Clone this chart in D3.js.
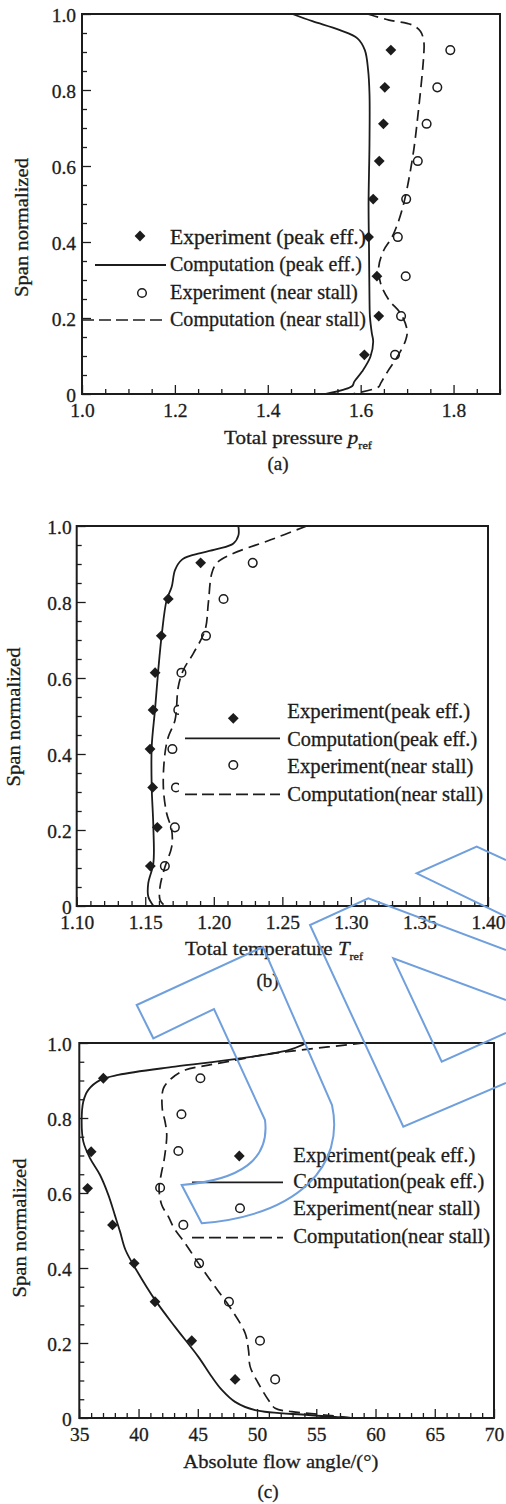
<!DOCTYPE html>
<html>
<head>
<meta charset="utf-8">
<script src="https://cdn.jsdelivr.net/npm/d3@7"></script>
<style>
  html, body { margin: 0; padding: 0; background: #fff; }
  svg { display: block; }
  text { font-family: "Liberation Serif", "Times New Roman", serif; fill: #1c1c1c; stroke: #1c1c1c; stroke-width: 0.3px; }
</style>
</head>
<body>
<svg id="chart" width="506" height="1504"></svg>
<script>
// ---------- shared ----------
const spanTicks = [0, 0.2, 0.4, 0.6, 0.8, 1.0];
const legendLabelsA = ["Experiment (peak eff.)", "Computation (peak eff.)", "Experiment (near stall)", "Computation (near stall)"];
const legendLabelsBC = ["Experiment(peak eff.)", "Computation(peak eff.)", "Experiment(near stall)", "Computation(near stall)"];

// ---------- (a) total pressure ----------
const pressureTicks = [1.0, 1.2, 1.4, 1.6, 1.8];
const pressureSpanExp = [0.103, 0.205, 0.31, 0.413, 0.513, 0.613, 0.711, 0.807, 0.905];
const pressureExpPeak = [1.608, 1.639, 1.635, 1.617, 1.627, 1.640, 1.649, 1.652, 1.665];
const pressureExpStall = [1.674, 1.687, 1.697, 1.680, 1.698, 1.723, 1.742, 1.765, 1.793];
const pressureSpanCompPeak = [1.0, 0.981, 0.958, 0.936, 0.905, 0.853, 0.79, 0.66, 0.5, 0.38, 0.25, 0.203, 0.16, 0.138, 0.098, 0.059, 0.032, 0.021, 0.0];
const pressureCompPeak = [1.453, 1.496, 1.554, 1.593, 1.609, 1.616, 1.619, 1.619, 1.617, 1.618, 1.619, 1.620, 1.624, 1.627, 1.621, 1.603, 1.586, 1.582, 1.525];
const pressureSpanCompStall = [1.0, 0.984, 0.971, 0.954, 0.927, 0.896, 0.753, 0.616, 0.484, 0.414, 0.379, 0.335, 0.291, 0.247, 0.212, 0.168, 0.142, 0.098, 0.059, 0.028, 0.019, 0.0];
const pressureCompStall = [1.615, 1.661, 1.711, 1.729, 1.736, 1.736, 1.725, 1.711, 1.689, 1.668, 1.650, 1.639, 1.643, 1.661, 1.686, 1.700, 1.697, 1.679, 1.658, 1.643, 1.639, 1.582];

// ---------- (b) total temperature ----------
const temperatureTicks = [1.10, 1.15, 1.20, 1.25, 1.30, 1.35, 1.40];
const temperatureSpanExp = [0.105, 0.207, 0.312, 0.413, 0.516, 0.614, 0.711, 0.808, 0.903];
const temperatureExpPeak = [1.1537, 1.1588, 1.1554, 1.1535, 1.1557, 1.1572, 1.1617, 1.1668, 1.1904];
const temperatureExpStall = [1.1643, 1.1716, 1.1724, 1.1698, 1.1741, 1.1764, 1.1943, 1.2071, 1.2284];
const temperatureSpanCompPeak = [1.0, 0.976, 0.954, 0.939, 0.924, 0.911, 0.884, 0.84, 0.805, 0.713, 0.621, 0.516, 0.419, 0.314, 0.209, 0.112, 0.06, 0.025, 0.0];
const temperatureCompPeak = [1.2179, 1.218, 1.2143, 1.2021, 1.1851, 1.1766, 1.1717, 1.1693, 1.1656, 1.162, 1.1595, 1.1571, 1.1547, 1.1547, 1.1559, 1.1559, 1.1522, 1.1522, 1.156];
const temperatureSpanCompStall = [1.0, 0.963, 0.924, 0.902, 0.875, 0.797, 0.726, 0.665, 0.621, 0.577, 0.489, 0.446, 0.402, 0.314, 0.244, 0.2, 0.156, 0.103, 0.051, 0.016, 0.0];
const temperatureCompStall = [1.2678, 1.241, 1.2118, 1.2021, 1.1985, 1.196, 1.1936, 1.1851, 1.1778, 1.1741, 1.1717, 1.1669, 1.1644, 1.1632, 1.1656, 1.1693, 1.1693, 1.1644, 1.1608, 1.1608, 1.1644];

// ---------- (c) absolute flow angle ----------
const angleTicks = [35, 40, 45, 50, 55, 60, 65, 70];
const angleSpanExpPeak = [0.103, 0.206, 0.31, 0.4125, 0.515, 0.6125, 0.71, 0.906];
const angleExpPeak = [48.15, 44.49, 41.39, 39.63, 37.8, 35.7, 36.0, 37.03];
const angleSpanExpStall = [0.103, 0.206, 0.31, 0.4125, 0.515, 0.614, 0.712, 0.81, 0.906];
const angleExpStall = [51.53, 50.25, 47.63, 45.11, 43.78, 41.82, 43.36, 43.62, 45.22];
const angleSpanCompPeak = [1.0, 0.981, 0.957, 0.937, 0.915, 0.901, 0.875, 0.844, 0.79, 0.737, 0.693, 0.648, 0.595, 0.541, 0.497, 0.448, 0.386, 0.315, 0.243, 0.163, 0.11, 0.075, 0.043, 0.021, 0.008, 0.0];
const angleCompPeak = [54.2, 52.65, 48.15, 43.08, 38.29, 36.75, 35.76, 35.34, 35.2, 35.34, 35.9, 36.75, 37.45, 38.0, 38.44, 38.9, 39.98, 41.39, 43.08, 45.05, 46.18, 47.03, 48.15, 49.84, 54.34, 57.9];
const angleSpanCompStall = [1.0, 0.981, 0.968, 0.955, 0.941, 0.928, 0.906, 0.879, 0.826, 0.79, 0.755, 0.693, 0.648, 0.613, 0.568, 0.537, 0.506, 0.466, 0.413, 0.35, 0.288, 0.226, 0.181, 0.137, 0.092, 0.048, 0.026, 0.017, 0.008, 0.0];
const angleCompStall = [59.0, 53.64, 50.4, 48.3, 45.9, 43.93, 42.8, 42.1, 42.0, 42.24, 42.38, 42.18, 41.9, 41.73, 41.96, 42.52, 43.0, 43.93, 45.05, 46.46, 47.87, 49.0, 49.28, 49.42, 50.12, 50.96, 51.53, 52.94, 55.75, 58.0];

// ---------- drawing ----------
const INK = "#1c1c1c";
const svg = d3.select("#chart");
const zip = (spans, vals) => spans.map((s, i) => ({ s, v: vals[i] }));
const minorBetween = (lo, hi, step, majors) =>
  d3.range(Math.round((hi - lo) / step) + 1).map(i => lo + i * step)
    .filter(v => !majors.some(m => Math.abs(m - v) < step / 10));

// Text stretched horizontally to a given advance width.
function fitText(parent, o) {
  const g = parent.append("g");
  const t = g.append("text").attr("font-size", o.size).attr("text-anchor", o.anchor || "start");
  o.build(t);
  const w = t.node().getComputedTextLength();
  const s = o.width ? o.width / w : 1;
  g.attr("transform", `translate(${o.x},${o.y}) rotate(${o.rotate || 0}) scale(${s},1)`);
  return g;
}

const diamondPath = h => `M0,${-h}L${h},0L0,${h}L${-h},0Z`;

let clipId = 0;
function drawPanel(cfg) {
  const g = svg.append("g");
  const x = d3.scaleLinear().domain(cfg.xDomain).range(cfg.xRange);
  const y = d3.scaleLinear().domain([0, 1]).range(cfg.yRange);
  const [x0, x1] = cfg.xRange, [yb, yt] = cfg.yRange;

  // axes with inward ticks
  const styleAxis = a => {
    a.select(".domain").remove();
    a.attr("font-size", null).attr("font-family", null);
    a.selectAll("line").attr("stroke", INK).attr("stroke-width", 1.3);
    a.selectAll("text").attr("font-size", 19.5).attr("fill", INK);
  };
  g.append("g").attr("transform", `translate(0,${yb})`)
    .call(d3.axisBottom(x).tickValues(cfg.xMinor).tickSize(-5).tickFormat(""))
    .call(styleAxis);
  g.append("g").attr("transform", `translate(0,${yb})`)
    .call(d3.axisBottom(x).tickValues(cfg.xTicks).tickSize(-9).tickPadding(9).tickFormat(cfg.xFmt))
    .call(styleAxis);
  const spanMinor = minorBetween(0, 1, 0.05, spanTicks);
  g.append("g").attr("transform", `translate(${x0},0)`)
    .call(d3.axisLeft(y).tickValues(spanMinor).tickSize(-5).tickFormat(""))
    .call(styleAxis);
  g.append("g").attr("transform", `translate(${x0},0)`)
    .call(d3.axisLeft(y).tickValues(spanTicks).tickSize(-9).tickPadding(cfg.yPad)
      .tickFormat(d => d === 0 ? "0" : d3.format(".1f")(d)))
    .call(styleAxis)
    .selectAll("text").attr("dy", "0.36em");

  // computed profiles
  const id = "clip" + (clipId++);
  g.append("clipPath").attr("id", id).append("rect")
    .attr("x", x0).attr("y", yt).attr("width", x1 - x0).attr("height", yb - yt);
  const line = d3.line().x(d => x(d.v)).y(d => y(d.s)).curve(d3.curveCatmullRom.alpha(0.5));
  const lines = g.append("g").attr("clip-path", `url(#${id})`).attr("fill", "none").attr("stroke", INK);
  lines.append("path").attr("d", line(cfg.compPeak)).attr("stroke-width", 1.8);
  lines.append("path").attr("d", line(cfg.compStall)).attr("stroke-width", 1.7).attr("stroke-dasharray", "11,6");

  // experimental points
  g.append("g").selectAll("path").data(cfg.expPeak).join("path")
    .attr("transform", d => `translate(${x(d.v)},${y(d.s)})`)
    .attr("d", diamondPath(5.4)).attr("fill", INK);
  g.append("g").selectAll("circle").data(cfg.expStall).join("circle")
    .attr("cx", d => x(d.v)).attr("cy", d => y(d.s)).attr("r", 4.3)
    .attr("fill", "none").attr("stroke", INK).attr("stroke-width", 1.5);

  // legend
  const L = cfg.legend;
  const lg = g.append("g");
  if (L.box) lg.append("rect").attr("x", L.box[0]).attr("y", L.box[1])
    .attr("width", L.box[2]).attr("height", L.box[3]).attr("fill", "#fff");
  lg.append("path").attr("transform", `translate(${L.diamond[0]},${L.diamond[1]})`)
    .attr("d", diamondPath(5.4)).attr("fill", INK);
  lg.append("line").attr("x1", L.solid[0]).attr("x2", L.solid[1]).attr("y1", L.solid[2]).attr("y2", L.solid[2])
    .attr("stroke", INK).attr("stroke-width", 1.8);
  lg.append("circle").attr("cx", L.circle[0]).attr("cy", L.circle[1]).attr("r", 4.3)
    .attr("fill", "none").attr("stroke", INK).attr("stroke-width", 1.5);
  lg.append("line").attr("x1", L.dashed[0]).attr("x2", L.dashed[1]).attr("y1", L.dashed[2]).attr("y2", L.dashed[2])
    .attr("stroke", INK).attr("stroke-width", 1.7).attr("stroke-dasharray", "12,5");
  L.labels.forEach((lab, i) => fitText(lg, {
    x: L.textX, y: L.baselines[i], size: 20, width: L.widths[i], build: t => t.text(lab)
  }));

  // frame
  g.append("rect").attr("x", x0).attr("y", yt).attr("width", x1 - x0).attr("height", yb - yt)
    .attr("fill", "none").attr("stroke", INK).attr("stroke-width", 2);

  // axis titles
  fitText(g, {
    x: cfg.yTitle[0], y: cfg.yTitle[1], rotate: -90, anchor: "middle", size: 19, width: 139,
    build: t => t.text("Span normalized")
  });
  fitText(g, {
    x: cfg.xTitle.x, y: cfg.xTitle.y, size: 19, width: cfg.xTitle.width,
    build: t => {
      t.append("tspan").text(cfg.xTitle.parts[0]);
      if (cfg.xTitle.parts.length > 1) {
        t.append("tspan").attr("font-style", "italic").text(cfg.xTitle.parts[1]);
        t.append("tspan").attr("font-size", 11).attr("dy", 5).text(cfg.xTitle.parts[2]);
      }
    }
  });
  g.append("text").attr("x", cfg.tag[0]).attr("y", cfg.tag[1]).attr("text-anchor", "middle")
    .attr("font-size", 19).text(cfg.tag[2]);
}

drawPanel({
  xDomain: [1.0, 1.9], xRange: [82, 500], yRange: [394, 14],
  xTicks: pressureTicks, xMinor: minorBetween(1.0, 1.9, 0.05, pressureTicks), xFmt: d3.format(".1f"),
  yPad: 6, yTitle: [28, 227.5],
  xTitle: { x: 224, y: 444, width: 148, parts: ["Total pressure ", "p", "ref"] },
  tag: [278, 470, "(a)"],
  expPeak: zip(pressureSpanExp, pressureExpPeak), expStall: zip(pressureSpanExp, pressureExpStall),
  compPeak: zip(pressureSpanCompPeak, pressureCompPeak), compStall: zip(pressureSpanCompStall, pressureCompStall),
  legend: {
    diamond: [140, 236], solid: [95, 166, 265], circle: [142, 293], dashed: [82, 166, 320],
    textX: 170, baselines: [243.5, 271, 299.3, 326], widths: [196, 192, 188, 196], labels: legendLabelsA
  }
});

drawPanel({
  xDomain: [1.10, 1.40], xRange: [76.7, 488], yRange: [906, 526],
  xTicks: temperatureTicks, xMinor: minorBetween(1.10, 1.40, 0.01, temperatureTicks), xFmt: d3.format(".2f"),
  yPad: 5, yTitle: [20, 717],
  xTitle: { x: 185, y: 955, width: 178, parts: ["Total temperature ", "T", "ref"] },
  tag: [267.5, 987, "(b)"],
  expPeak: zip(temperatureSpanExp, temperatureExpPeak), expStall: zip(temperatureSpanExp, temperatureExpStall),
  compPeak: zip(temperatureSpanCompPeak, temperatureCompPeak), compStall: zip(temperatureSpanCompStall, temperatureCompStall),
  legend: {
    box: [179, 698, 308, 110],
    diamond: [233.3, 718.3], solid: [185, 280, 738.3], circle: [233.3, 765], dashed: [185, 280, 794.3],
    textX: 287.3, baselines: [718.3, 746.3, 773.3, 801.3], widths: [183, 190, 186, 196], labels: legendLabelsBC
  }
});

drawPanel({
  xDomain: [35, 70], xRange: [79.3, 494], yRange: [1418, 1043],
  xTicks: angleTicks, xMinor: minorBetween(35, 70, 1, angleTicks), xFmt: d3.format("d"),
  yPad: 7.6, yTitle: [25.5, 1228],
  xTitle: { x: 183.3, y: 1468, width: 195, parts: ["Absolute flow angle/(\u00B0)"] },
  tag: [268, 1498, "(c)"],
  expPeak: zip(angleSpanExpPeak, angleExpPeak), expStall: zip(angleSpanExpStall, angleExpStall),
  compPeak: zip(angleSpanCompPeak, angleCompPeak), compStall: zip(angleSpanCompStall, angleCompStall),
  legend: {
    diamond: [239.3, 1156], solid: [192, 283, 1182.3], circle: [240, 1208.3], dashed: [192, 283, 1237.7],
    textX: 293.3, baselines: [1161.7, 1188.3, 1215, 1243.3], widths: [182, 191, 187, 197], labels: legendLabelsBC
  }
});

// ---------- publisher logo outline ----------
const logoPaths = [
  "M136.7,1005 L263,947 L332,1105 C345,1165 300,1215 201.7,1223.3 L181.7,1185 C240,1180 270,1160 265,1120 L214,1009 L153.3,1038.3 Z",
  "M506,950 L368.3,898.3 L310,925 L403.3,1126.7 L506,1083",
  "M506,1000 L393.3,958.3 L441.7,1061.7 L506,1033",
  "M506,916.7 L416.7,873.3 L476.7,846.7 L506,860"
];
svg.append("g").attr("fill", "none").attr("stroke", "#6f9fdc").attr("stroke-width", 2)
  .attr("stroke-linejoin", "miter")
  .selectAll("path").data(logoPaths).join("path").attr("d", d => d);
</script>
</body>
</html>
